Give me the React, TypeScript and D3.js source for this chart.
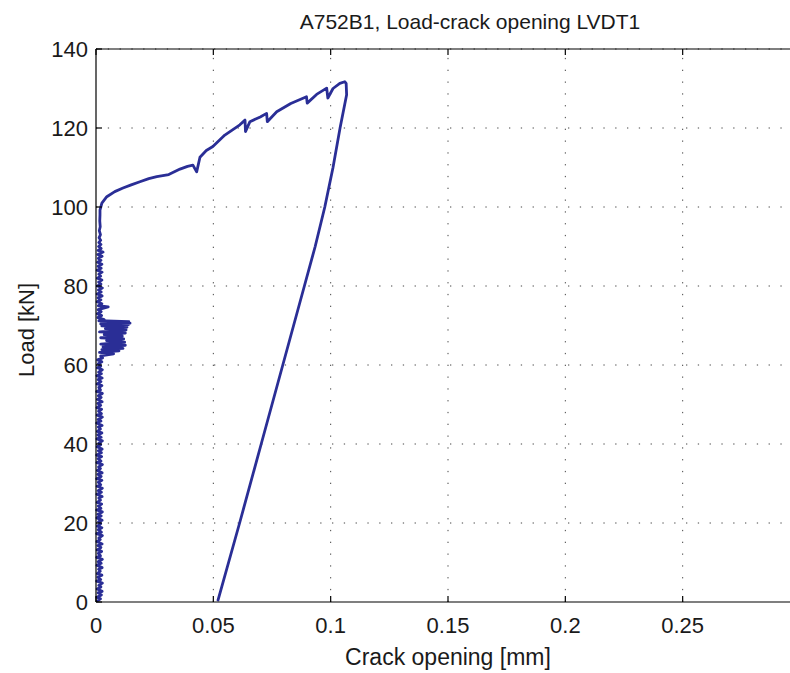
import React from "react";
import * as d3 from "d3";

const xTicks = [0, 0.05, 0.1, 0.15, 0.2, 0.25, 0.3];
const yTicks = [0, 20, 40, 60, 80, 100, 120, 140];

const preBurst: [number, number][] = [
  [0.0006, 0.3], [0.0019, 0.8], [0.0004, 1.2], [0.0023, 1.8], [0.0009, 2.3], [0.0026, 2.7], [0.0005, 3.3], [0.0021, 3.8], [0.0012, 4.2], [0.0027, 4.8],
  [0.0003, 5.3], [0.002, 5.7], [0.0008, 6.3], [0.0025, 6.8], [0.0006, 7.2], [0.0018, 7.8], [0.0011, 8.3], [0.0026, 8.7], [0.0004, 9.3], [0.0022, 9.8],
  [0.0009, 10.2], [0.0027, 10.8], [0.0003, 11.3], [0.0019, 11.7], [0.001, 12.3], [0.0024, 12.8], [0.0005, 13.2], [0.0021, 13.8], [0.0008, 14.3], [0.0026, 14.7],
  [0.0004, 15.3], [0.0018, 15.8], [0.0012, 16.2], [0.0027, 16.8], [0.0003, 17.3], [0.0023, 17.7], [0.0009, 18.3], [0.0025, 18.8], [0.0006, 19.2], [0.002, 19.8],
  [0.0011, 20.3], [0.0026, 20.7], [0.0004, 21.3], [0.0022, 21.8], [0.0008, 22.2], [0.0027, 22.8], [0.0003, 23.3], [0.0021, 23.7], [0.001, 24.3], [0.0024, 24.8],
  [0.0005, 25.2], [0.0019, 25.8], [0.0012, 26.3], [0.0026, 26.7], [0.0004, 27.3], [0.0023, 27.8], [0.0009, 28.2], [0.0027, 28.8], [0.0005, 29.3], [0.002, 29.7],
  [0.001, 30.3], [0.0025, 30.8], [0.0003, 31.2], [0.0022, 31.8], [0.0008, 32.3], [0.0026, 32.7], [0.0006, 33.3], [0.0019, 33.8], [0.0011, 34.2], [0.0027, 34.8],
  [0.0004, 35.3], [0.0021, 35.7], [0.0009, 36.3], [0.0024, 36.8], [0.0003, 37.2], [0.0023, 37.8], [0.001, 38.3], [0.0026, 38.7], [0.0005, 39.3], [0.002, 39.8],
  [0.0012, 40.2], [0.0027, 40.8], [0.0004, 41.3], [0.0022, 41.7], [0.0008, 42.3], [0.0025, 42.8], [0.0006, 43.2], [0.0019, 43.8], [0.001, 44.3], [0.0026, 44.7],
  [0.0003, 45.3], [0.0021, 45.8], [0.0009, 46.2], [0.0027, 46.8], [0.0005, 47.3], [0.0023, 47.7], [0.0011, 48.3], [0.0024, 48.8], [0.0004, 49.2], [0.002, 49.8],
  [0.0008, 50.3], [0.0026, 50.7], [0.0006, 51.3], [0.0022, 51.8], [0.001, 52.2], [0.0027, 52.8], [0.0003, 53.3], [0.0019, 53.7], [0.0012, 54.3], [0.0025, 54.8],
  [0.0005, 55.2], [0.0021, 55.8], [0.0009, 56.3], [0.0026, 56.7], [0.0004, 57.3], [0.0023, 57.8], [0.0011, 58.2], [0.0027, 58.8], [0.0006, 59.3], [0.002, 59.7],
  [0.001, 60.3], [0.0025, 60.8], [0.0007, 61.3], [0.0028, 61.8],
];

const burst: [number, number][] = [
  [0.002, 62.3], [0.0075, 62.8], [0.0015, 63.2], [0.0098, 63.6], [0.0025, 63.9], [0.0115, 64.2], [0.003, 64.6], [0.0125, 65.0],
  [0.002, 65.3], [0.0122, 65.8], [0.0045, 66.2], [0.0118, 66.6], [0.002, 66.9], [0.0112, 67.3], [0.0035, 67.7], [0.0125, 68.1],
  [0.0015, 68.4], [0.0128, 68.9], [0.004, 69.2], [0.0132, 69.6], [0.0025, 69.9], [0.0138, 70.2], [0.002, 70.4], [0.0145, 70.6],
  [0.003, 70.8], [0.014, 71.0], [0.0012, 71.2], [0.0035, 71.5], [0.0008, 72.0],
];

const upperBand: [number, number][] = [
  [0.0024, 72.5], [0.0006, 73.0], [0.0022, 73.5], [0.0009, 74.0], [0.0052, 74.7], [0.001, 75.0], [0.0025, 75.5], [0.0005, 76.0], [0.0021, 76.5], [0.0009, 77.0],
  [0.0026, 77.5], [0.0005, 78.0], [0.0022, 78.5], [0.001, 79.0], [0.0027, 79.5], [0.0006, 80.0], [0.0021, 80.5], [0.0011, 81.0], [0.0025, 81.5], [0.0006, 82.0],
  [0.002, 82.5], [0.0012, 83.0], [0.0026, 83.5], [0.0005, 84.0], [0.0022, 84.5], [0.0009, 85.0], [0.0025, 85.5], [0.0007, 86.0], [0.0021, 86.5], [0.001, 87.0],
  [0.0026, 87.5], [0.0008, 88.0], [0.003, 88.6], [0.0009, 89.0], [0.0022, 89.5], [0.0011, 90.0], [0.0021, 90.5], [0.0012, 91.0], [0.002, 91.6], [0.0013, 92.2],
  [0.0019, 93.0], [0.0014, 94.0], [0.0018, 95.0], [0.0016, 96.5], [0.0017, 98.0],
];

const rising: [number, number][] = [
  [0.0017, 99.2], [0.0025, 101.0], [0.0046, 102.6], [0.008, 103.9], [0.0115, 104.8], [0.015, 105.6], [0.0187, 106.4],
  [0.0225, 107.2], [0.0259, 107.7], [0.031, 108.2], [0.0358, 109.6], [0.039, 110.3], [0.0413, 110.6], [0.0429, 108.9],
  [0.0443, 112.6], [0.047, 114.3], [0.0498, 115.3], [0.0549, 118.2], [0.0613, 120.8], [0.0635, 122.0], [0.0637, 119.1],
  [0.0656, 121.6], [0.07, 122.8], [0.0727, 123.7], [0.073, 121.6], [0.077, 124.1], [0.083, 126.2], [0.0897, 127.9],
  [0.09, 126.3], [0.094, 128.5], [0.0983, 130.1], [0.0988, 127.6], [0.101, 130.0], [0.1039, 131.3], [0.106, 131.7],
  [0.1066, 131.3], [0.1068, 128.4],
];

const unload: [number, number][] = [
  [0.1068, 128.4], [0.104, 120], [0.101, 110], [0.0975, 100], [0.0934, 90], [0.0888, 80], [0.0796, 60], [0.0704, 40], [0.0612, 20], [0.052, 0.5],
];

const W = 790;
const H = 673;
const m = { left: 96, right: 800, top: 49, bottom: 602 };

export default function App() {
  const x = d3.scaleLinear().domain([0, 0.3]).range([m.left, m.right]);
  const y = d3.scaleLinear().domain([0, 140]).range([m.bottom, m.top]);
  const all = [...preBurst, ...burst, ...upperBand, ...rising, ...unload];
  const line = d3
    .line<[number, number]>()
    .x((d) => x(d[0]))
    .y((d) => y(d[1]));
  const font = "Arial, 'Liberation Sans', Helvetica, sans-serif";
  const grid = "#444";
  const txt = "#1a1a1a";
  return (
    <svg
      width={W}
      height={H}
      style={{ position: "absolute", left: 0, top: 0, background: "#fff" }}
      fontFamily={font}
    >
      <rect x={0} y={0} width={W} height={H} fill="#fff" />
      {xTicks.slice(1).map((t) => (
        <line key={"gx" + t} x1={x(t)} x2={x(t)} y1={m.bottom} y2={m.top} stroke={grid} strokeWidth={1} strokeDasharray="1.3 10.5" />
      ))}
      {yTicks.slice(1).map((t) => (
        <line key={"gy" + t} x1={m.left} x2={m.right} y1={y(t)} y2={y(t)} stroke={grid} strokeWidth={1} strokeDasharray="1.3 10.5" />
      ))}
      <path d={line(all) || ""} fill="none" stroke="#2a2e96" strokeWidth={2.8} strokeLinejoin="round" strokeLinecap="round" />
      <line x1={m.left} x2={m.right} y1={m.bottom} y2={m.bottom} stroke="#000" strokeWidth={1.2} />
      <line x1={m.left} x2={m.right} y1={m.top} y2={m.top} stroke="#000" strokeWidth={1.2} />
      <line x1={m.left} x2={m.left} y1={m.top} y2={m.bottom} stroke="#000" strokeWidth={1.2} />
      {xTicks.map((t) => (
        <g key={"tx" + t}>
          <line x1={x(t)} x2={x(t)} y1={m.bottom} y2={m.bottom - 6} stroke="#000" strokeWidth={1.2} />
          <line x1={x(t)} x2={x(t)} y1={m.top} y2={m.top + 6} stroke="#000" strokeWidth={1.2} />
          {t < 0.29 && (
            <text x={x(t)} y={633} textAnchor="middle" fontSize={22} fill={txt}>
              {String(t)}
            </text>
          )}
        </g>
      ))}
      {yTicks.map((t) => (
        <g key={"ty" + t}>
          <line x1={m.left} x2={m.left + 6} y1={y(t)} y2={y(t)} stroke="#000" strokeWidth={1.2} />
          <text x={88} y={y(t)} textAnchor="end" dominantBaseline="central" fontSize={22} fill={txt}>
            {String(t)}
          </text>
        </g>
      ))}
      <text x={470} y={29} textAnchor="middle" fontSize={21} fill={txt}>
        A752B1, Load-crack opening LVDT1
      </text>
      <text x={448} y={665} textAnchor="middle" fontSize={23} fill={txt}>
        Crack opening [mm]
      </text>
      <text transform={`translate(34, 330) rotate(-90)`} textAnchor="middle" fontSize={22} fill={txt}>
        Load [kN]
      </text>
    </svg>
  );
}
